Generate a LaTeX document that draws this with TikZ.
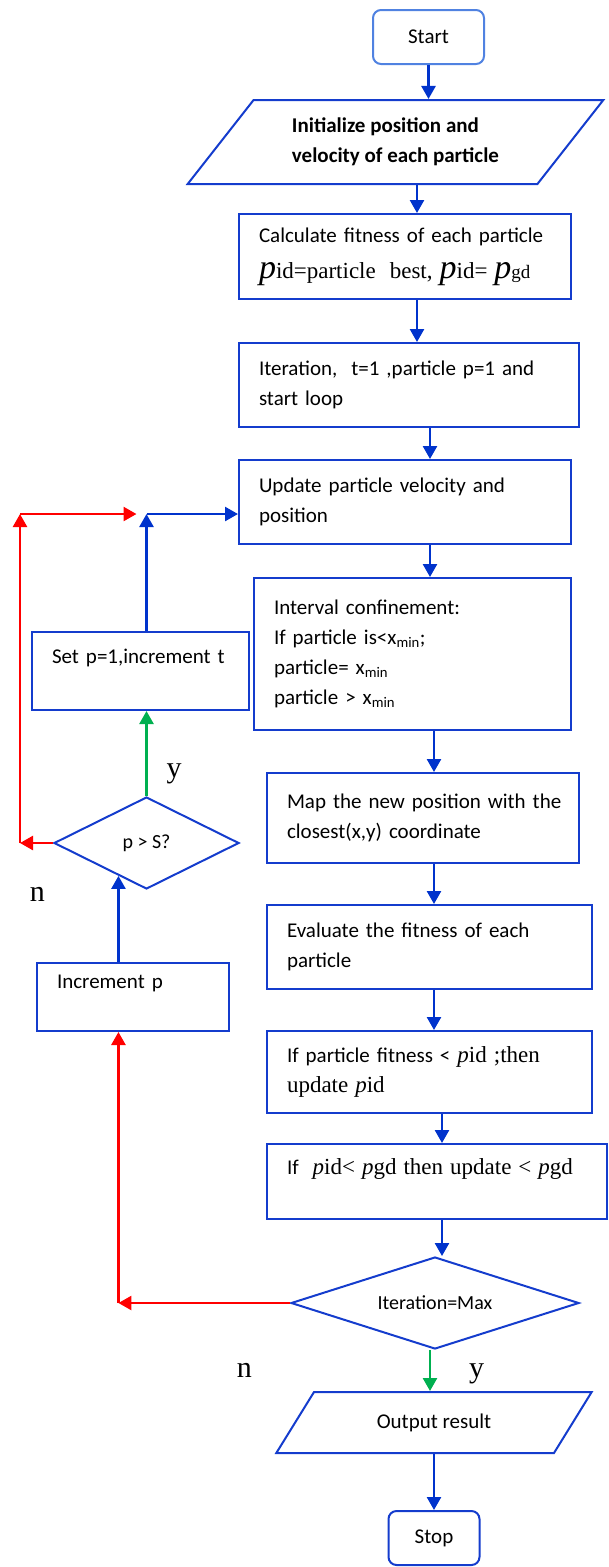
\documentclass[tikz,border=0pt]{standalone}
\usepackage{fontspec}
\setmainfont{Carlito}
\newfontfamily\tnr{Liberation Serif}
\usetikzlibrary{positioning,shapes.geometric,arrows.meta,calc}
\definecolor{boxblue}{RGB}{20,60,205}
\definecolor{arrowblue}{RGB}{0,51,204}
\definecolor{startblue}{RGB}{80,130,225}
\definecolor{backred}{RGB}{255,0,0}
\definecolor{yesgreen}{RGB}{0,176,80}
\newcommand{\tm}{\tnr\fontsize{23}{30}\selectfont}
\newcommand{\bigp}{{\fontsize{34}{30}\selectfont\itshape p}}
\tikzset{
  process/.style={draw=boxblue, line width=2pt, rectangle, inner xsep=20pt, inner ysep=0pt, align=left, text width=#1},
  io/.style={draw=boxblue, line width=2pt, trapezium, trapezium left angle=45, trapezium right angle=135, trapezium stretches=true, inner sep=0pt, align=left},
  decision/.style={draw=boxblue, line width=2pt, diamond, inner sep=0pt, aspect=#1, font=\fontsize{20}{24}\selectfont},
  terminal/.style={draw=#1, line width=2pt, rectangle, rounded corners=8pt, minimum width=111pt, minimum height=54pt},
  flow/.style={-{Triangle[width=14pt,length=13pt]}, line width=2.5pt, draw=arrowblue},
  redflow/.style={flow, draw=backred},
  greenflow/.style={flow, draw=yesgreen},
  lbl/.style={inner sep=0pt, font=\tnr\fontsize{30}{30}\selectfont}
}
\begin{document}
\begin{tikzpicture}[x=1pt,y=-1pt,node distance=100pt,on grid,
  every node/.style={font=\fontsize{21}{30}\selectfont}]
   \useasboundingbox (0,0) rectangle (609,1567);
   % main column
   \node[terminal=startblue] (start) at (428.5,37) {Start};
   \node[io, minimum width=416pt, minimum height=84pt, font=\bfseries\fontsize{21}{30}\selectfont] (init) [below left=105pt and 33pt of start] {Initialize position and\\velocity of each particle};
   \node[process=292pt, minimum height=85pt] (calc) [below right=114.5pt and 9.5pt of init] {Calculate fitness of each particle\\[6pt]{\tm\bigp id=particle\ \ best, \bigp id= \bigp{\fontsize{19}{30}\selectfont gd}}};
   \node[process=300pt, minimum height=84pt] (iter) [below right=128.5pt and 4pt of calc] {Iteration,\ \ t=1 ,particle p=1 and\\start loop};
   \node[process=292pt, minimum height=84pt] (update) [below left=117pt and 4pt of iter] {Update particle velocity and\\position};
   \node[process=277pt, minimum height=152pt] (interval) [below right=152pt and 7.5pt of update] {Interval confinement:\\If particle is<x\textsubscript{min};\\particle= x\textsubscript{min}\\particle > x\textsubscript{min}};
   \node[process=272pt, minimum height=90pt] (map) [below right=164pt and 10.5pt of interval] {\mbox{Map the new position with the}\\closest(x,y) coordinate};
   \node[process=285pt, minimum height=84pt] (eval) [below right=129pt and 6.5pt of map] {Evaluate the fitness of each\\particle};
   \node[process=285pt, minimum height=82pt] (fit) [below=125pt of eval] {If particle fitness < {\tm\textit{p}id ;then}\\{\tm update \textit{p}id}};
   \node[process=300pt, minimum height=75pt] (pid) [below right=109.5pt and 7.5pt of fit] {If\ \ {\tm\textit{p}id< \textit{p}gd then update < \textit{p}gd}\\\mbox{}};
   \node[decision=3.1, minimum width=288pt, minimum height=92pt] (max) [below left=121.5pt and 2pt of pid] {Iteration=Max};
   \node[io, minimum width=316pt, minimum height=61pt] (out) [below left=119.5pt and 1pt of max] {Output result};
   \node[terminal=boxblue, minimum width=91pt] (stop) [below=115.5pt of out] {Stop};
   % inner loop
   \node[process=177pt, minimum height=78pt] (setp) [below left=169pt and 264.5pt of update] {Set p=1,increment t\\\mbox{}};
   \node[decision=2, minimum width=185pt, minimum height=92pt] (pS) [below right=172pt and 6pt of setp] {p > S?};
   \node[process=152pt, minimum height=68pt] (incp) [below left=154pt and 13.5pt of pS] {Increment p\\\mbox{}};
   % labels
   \node[lbl] (y1) [above right=12pt and 20pt of pS.north] {y};
   \node[lbl] (n1) [below left=44pt and 8pt of pS.west] {n};
   \node[lbl] (n2) [below left=60pt and 38pt of max.west] {n};
   \node[lbl] (y2) [below right=14pt and 34pt of max.south] {y};
   % helper points
   \coordinate (bjoin) at ([yshift=-12pt]update.west -| pS.north);
   \coordinate (rcorner) at ([xshift=-33pt]pS.west);
   \coordinate (cross) at ($(pS.west)!0.7!(pS.south)$);
   % main flow
   \draw[flow] (start) -- (start |- init.north);
   \draw[flow] ([xshift=12pt]calc.north |- init.south) -- ([xshift=12pt]calc.north);
   \draw[flow] ([xshift=12pt]calc.south) -- ([xshift=12pt]calc.south |- iter.north);
   \draw[flow] ([xshift=21pt]iter.south) -- ([xshift=21pt]iter.south |- update.north);
   \draw[flow] ([xshift=25pt]update.south) -- ([xshift=25pt]update.south |- interval.north);
   \draw[flow] ([xshift=21.5pt]interval.south) -- ([xshift=21.5pt]interval.south |- map.north);
   \draw[flow] ([xshift=11pt]map.south) -- ([xshift=11pt]map.south |- eval.north);
   \draw[flow] ([xshift=4.5pt]eval.south) -- ([xshift=4.5pt]eval.south |- fit.north);
   \draw[flow] ([xshift=12.5pt]fit.south) -- ([xshift=12.5pt]fit.south |- pid.north);
   \draw[flow] ([xshift=5pt]pid.south) -- ([xshift=5pt]pid.south |- max.north);
   \draw[greenflow] ([xshift=-5pt]max.south) -- ([xshift=-5pt]max.south |- out.north);
   \draw[flow] (stop.north |- out.south) -- (stop.north);
   % loop back
   \draw[flow] (setp.north -| bjoin) -- (bjoin);
   \draw[flow] (bjoin) -- (bjoin -| update.west);
   \draw[greenflow] (pS.north) -- (pS.north |- setp.south);
   \draw[redflow] (pS.west) -- (rcorner);
   \draw[redflow] (rcorner) -- (rcorner |- bjoin);
   \draw[redflow] (rcorner |- bjoin) -- ([xshift=-10pt]bjoin);
   \draw[flow] (cross |- incp.north) -- (cross);
   \draw[redflow] (max.west) -- (cross |- max.west);
   \draw[redflow] (cross |- max.west) -- (cross |- incp.south);
\end{tikzpicture}
\end{document}
